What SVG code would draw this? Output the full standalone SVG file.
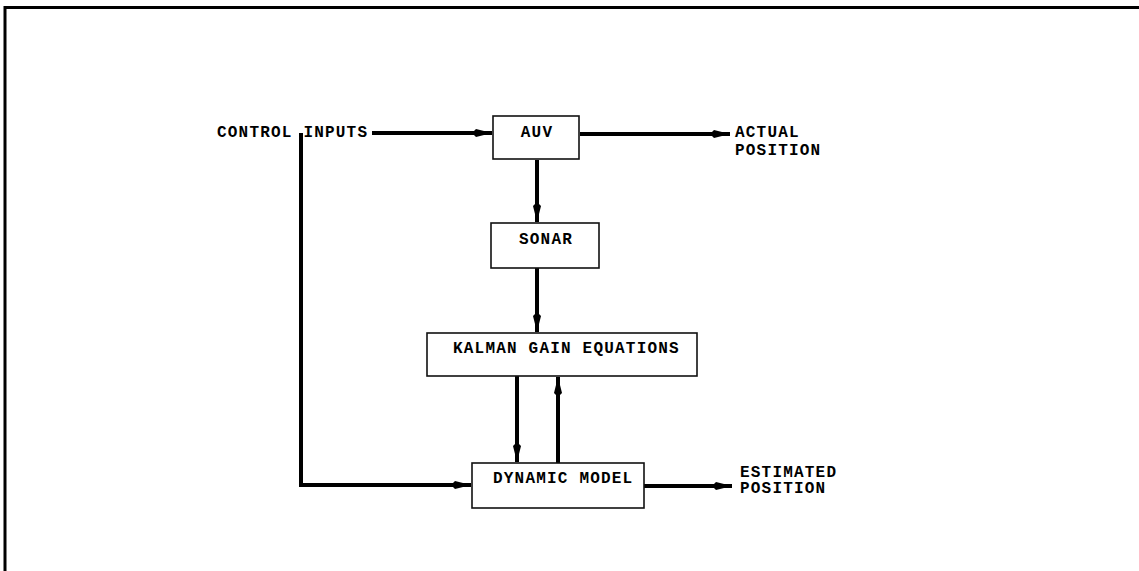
<svg xmlns="http://www.w3.org/2000/svg" width="1139" height="571" viewBox="0 0 1139 571">
<style>
.frame{fill:none;stroke:#000;stroke-width:3}
.box{fill:#fff;stroke:#111;stroke-width:1.6}
.lbl{font-family:"Liberation Mono","DejaVu Sans Mono",monospace;font-weight:bold;font-size:16px;letter-spacing:1.2px;fill:#000}
.conn{fill:none;stroke:#000;stroke-width:4}
.tip{fill:#000}
</style>
<defs>
<marker id="ah" markerUnits="userSpaceOnUse" markerWidth="22" markerHeight="12" refX="20" refY="6" orient="auto">
<path d="M0,6 L4,2 L20,6 L4,10 Z" class="tip"/>
</marker>
</defs>
<rect width="1139" height="571" fill="#fff"/>
<path class="frame" d="M5,571 V7.5 H1139"/>
<g id="connectors">
<path class="conn" d="M372,133 H492" marker-end="url(#ah)"/>
<path class="conn" d="M580,134 H730" marker-end="url(#ah)"/>
<path class="conn" d="M301,133 V485 H471" marker-end="url(#ah)"/>
<path class="conn" d="M537,160 V222" marker-end="url(#ah)"/>
<path class="conn" d="M537,268 V332" marker-end="url(#ah)"/>
<path class="conn" d="M517,376 V462" marker-end="url(#ah)"/>
<path class="conn" d="M558,463 V377" marker-end="url(#ah)"/>
<path class="conn" d="M644,486 H732" marker-end="url(#ah)"/>
</g>
<g id="control-inputs"><text class="lbl" x="217" y="137">CONTROL INPUTS</text></g>
<g id="auv">
<rect class="box" x="493" y="116" width="86" height="43"/>
<text class="lbl" x="537" y="137" text-anchor="middle">AUV</text>
</g>
<g id="actual-position">
<text class="lbl" x="735" y="137">ACTUAL</text>
<text class="lbl" x="735" y="155">POSITION</text>
</g>
<g id="sonar">
<rect class="box" x="491" y="223" width="108" height="45"/>
<text class="lbl" x="546" y="244" text-anchor="middle">SONAR</text>
</g>
<g id="kalman">
<rect class="box" x="427" y="333" width="270" height="43"/>
<text class="lbl" x="453" y="353">KALMAN GAIN EQUATIONS</text>
</g>
<g id="dynamic-model">
<rect class="box" x="472" y="463" width="172" height="45"/>
<text class="lbl" x="493" y="483">DYNAMIC MODEL</text>
</g>
<g id="estimated-position">
<text class="lbl" x="740" y="477">ESTIMATED</text>
<text class="lbl" x="740" y="493">POSITION</text>
</g>
</svg>
